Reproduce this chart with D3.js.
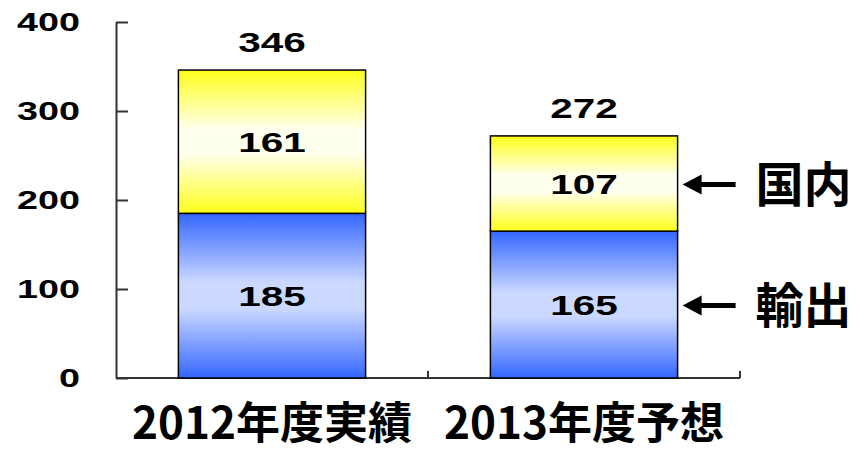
<!DOCTYPE html>
<html>
<head>
<meta charset="utf-8">
<script src="https://cdn.jsdelivr.net/npm/d3@7/dist/d3.min.js"></script>
<style>
    html, body { margin: 0; padding: 0; background: #fff; }
    svg { display: block; }
</style>
</head>
<body>
<svg id="chart" width="863" height="452"></svg>
<script>
'use strict';

// data
const categories = ['2012年度実績', '2013年度予想'];
const exportValues = [185, 165];   // 輸出
const domesticValues = [161, 107]; // 国内
const seriesNames = ['輸出', '国内'];
const yTicks = [0, 100, 200, 300, 400];

const AXIS_LEFT = 116;
const AXIS_RIGHT = 740;
const AXIS_TOP = 22;
const AXIS_BOTTOM = 378;
const NUM_FONT = '"Liberation Sans", Arial, sans-serif';
const CJK_FONT = '"Noto Sans CJK JP", sans-serif';
const NUM_STRETCH = 1.45;

const svg = d3.select('#chart');

const x = d3.scaleBand()
    .domain(categories)
    .range([AXIS_LEFT, AXIS_RIGHT])
    .paddingInner(0.4)
    .paddingOuter(0.2);

const y = d3.scaleLinear()
    .domain([0, 400])
    .range([AXIS_BOTTOM, AXIS_TOP]);

const rows = categories.map((c, i) => ({
    category: c,
    export: exportValues[i],
    domestic: domesticValues[i]
}));

const stack = d3.stack().keys(['export', 'domestic'])(rows);

// gradients
const defs = svg.append('defs');

function addGradient(id, edge, mid) {
    const g = defs.append('linearGradient')
        .attr('id', id)
        .attr('x1', 0).attr('y1', 0)
        .attr('x2', 0).attr('y2', 1);
    [[0, edge], [0.42, mid], [0.58, mid], [1, edge]].forEach(([o, c]) => {
        g.append('stop').attr('offset', o).attr('stop-color', c);
    });
}

addGradient('grad-export', '#3366ff', '#cbd8ff');
addGradient('grad-domestic', '#ffff1a', '#fffff0');

// axes
const yAxis = d3.axisLeft(y)
    .tickValues(yTicks)
    .tickSize(-12)
    .tickSizeOuter(0)
    .tickPadding(0);

const gY = svg.append('g')
    .attr('transform', 'translate(' + AXIS_LEFT + ',0)')
    .call(yAxis);

gY.select('.domain').attr('stroke', '#333').attr('stroke-width', 2);
gY.selectAll('.tick line').attr('stroke', '#333').attr('stroke-width', 2);
gY.selectAll('.tick text')
    .attr('x', 0)
    .attr('transform', 'translate(-36,0) scale(' + NUM_STRETCH + ',1)')
    .attr('fill', '#000')
    .style('font-family', NUM_FONT)
    .style('font-weight', 'bold')
    .style('font-size', '26px');

// x axis line plus ticks at band boundaries
const xBounds = d3.range(categories.length + 1).map(i => AXIS_LEFT + i * x.step());

const gX = svg.append('g');
gX.append('line')
    .attr('x1', AXIS_LEFT).attr('x2', AXIS_RIGHT)
    .attr('y1', y(0)).attr('y2', y(0))
    .attr('stroke', '#333')
    .attr('stroke-width', 2);

gX.selectAll('.xtick')
    .data(xBounds.slice(1))
    .enter()
    .append('line')
    .attr('class', 'xtick')
    .attr('x1', d => d).attr('x2', d => d)
    .attr('y1', y(0)).attr('y2', y(0) - 7)
    .attr('stroke', '#333')
    .attr('stroke-width', 2);

// bars
const fills = ['url(#grad-export)', 'url(#grad-domestic)'];

stack.forEach((layer, li) => {
    svg.append('g')
        .selectAll('rect')
        .data(layer)
        .enter()
        .append('rect')
        .attr('x', d => x(d.data.category))
        .attr('y', d => y(d[1]))
        .attr('width', x.bandwidth())
        .attr('height', d => y(d[0]) - y(d[1]))
        .attr('fill', fills[li])
        .attr('stroke', '#000')
        .attr('stroke-width', 1.5);
});

function numberLabel(cx, cy, value) {
    svg.append('text')
        .attr('transform', 'translate(' + cx + ',' + cy + ') scale(' + NUM_STRETCH + ',1)')
        .attr('text-anchor', 'middle')
        .attr('dy', '0.36em')
        .attr('fill', '#000')
        .style('font-family', NUM_FONT)
        .style('font-weight', 'bold')
        .style('font-size', '28px')
        .text(value);
}

// segment values
stack.forEach(layer => {
    layer.forEach(d => {
        numberLabel(x(d.data.category) + x.bandwidth() / 2, y((d[0] + d[1]) / 2), d[1] - d[0]);
    });
});

// totals
rows.forEach(r => {
    const total = r.export + r.domestic;
    numberLabel(x(r.category) + x.bandwidth() / 2, y(total) - 28, total);
});

// category labels
svg.append('g')
    .selectAll('text')
    .data(categories)
    .enter()
    .append('text')
    .attr('x', d => x(d) + x.bandwidth() / 2)
    .attr('y', 439)
    .attr('text-anchor', 'middle')
    .attr('fill', '#000')
    .style('font-family', CJK_FONT)
    .style('font-weight', 'bold')
    .style('font-size', '44px')
    .text(d => d);

// series annotations next to last bar
const last = stack.map(layer => layer[layer.length - 1]);
const arrowStart = x(categories[categories.length - 1]) + x.bandwidth() + 5;

last.forEach((d, i) => {
    const cy = y((d[0] + d[1]) / 2) + 1;
    const g = svg.append('g').attr('transform', 'translate(' + arrowStart + ',' + cy + ')');

    g.append('line')
        .attr('x1', 14).attr('x2', 53)
        .attr('y1', 0).attr('y2', 0)
        .attr('stroke', '#000')
        .attr('stroke-width', 5);

    g.append('path')
        .attr('d', 'M0,0 L19,-10 L19,10 Z')
        .attr('fill', '#000');

    g.append('text')
        .attr('x', 73)
        .attr('dy', '0.36em')
        .attr('fill', '#000')
        .style('font-family', CJK_FONT)
        .style('font-weight', 'bold')
        .style('font-size', '48px')
        .text(seriesNames[i]);
});
</script>
</body>
</html>
